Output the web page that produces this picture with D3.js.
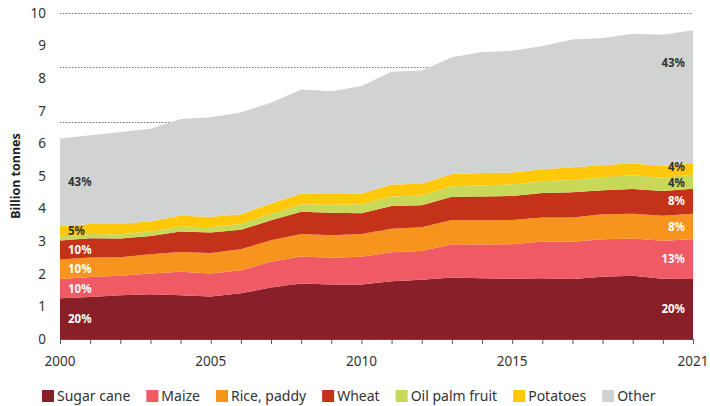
<!DOCTYPE html>
<html>
<head>
<meta charset="utf-8">
<script src="https://d3js.org/d3.v7.min.js"></script>
<style>
  body { margin: 0; background: #fff; }
  svg { display: block; font-family: "Noto Sans", sans-serif; }
  .tick-label { font-size: 13.5px; fill: #333; }
  .pct { font-size: 11.5px; font-weight: bold; }
  .legend text { font-size: 14px; fill: #333; }
</style>
</head>
<body>
<div id="chart"></div>
<script>
// Crop production, billion tonnes, 2000-2021
const years = d3.range(2000, 2022);

const sugarCane = [1.25,1.29,1.34,1.37,1.34,1.30,1.40,1.58,1.70,1.67,1.67,1.77,1.82,1.89,1.86,1.85,1.86,1.84,1.91,1.94,1.85,1.84];
const maize     = [0.59,0.61,0.60,0.64,0.72,0.71,0.71,0.79,0.83,0.82,0.85,0.89,0.88,1.02,1.04,1.06,1.13,1.14,1.15,1.14,1.16,1.22];
const rice      = [0.60,0.60,0.57,0.59,0.61,0.63,0.64,0.66,0.69,0.69,0.70,0.72,0.73,0.74,0.74,0.74,0.74,0.75,0.77,0.76,0.77,0.78];
const wheat     = [0.58,0.59,0.57,0.56,0.63,0.63,0.60,0.61,0.68,0.69,0.64,0.70,0.67,0.71,0.73,0.74,0.75,0.77,0.73,0.76,0.76,0.77];
const oilPalm   = [0.12,0.13,0.13,0.14,0.15,0.16,0.18,0.20,0.23,0.25,0.27,0.29,0.30,0.33,0.34,0.35,0.36,0.38,0.40,0.42,0.41,0.43];
const potatoes  = [0.32,0.31,0.32,0.31,0.33,0.32,0.30,0.32,0.33,0.33,0.33,0.37,0.36,0.37,0.38,0.37,0.37,0.39,0.37,0.37,0.36,0.37];
const other     = [2.69,2.72,2.82,2.84,2.97,3.05,3.12,3.09,3.19,3.15,3.30,3.46,3.48,3.58,3.71,3.73,3.78,3.92,3.90,3.97,4.02,4.06];

const seriesNames = ["Sugar cane", "Maize", "Rice, paddy", "Wheat", "Oil palm fruit", "Potatoes", "Other"];
const seriesValues = [sugarCane, maize, rice, wheat, oilPalm, potatoes, other];
const colors = ["#8a2027", "#ef5a64", "#f7941d", "#c4321a", "#c8d95a", "#ffc80a", "#d1d3d2"];

// share labels at each end (null = no label)
const startLabels = ["20%", "10%", "10%", "10%", null, "5%", "43%"];
const endLabels   = ["20%", "13%", "8%", "8%", "4%", "4%", "43%"];
const darkText = [false, false, false, false, true, true, true];

const yTicks = d3.range(0, 11);
const xTickLabels = [2000, 2005, 2010, 2015, 2021];

const width = 710, height = 406;
const margin = { top: 13, right: 17, bottom: 67, left: 60 };

const svg = d3.select("#chart").append("svg")
  .attr("width", width)
  .attr("height", height);

const x = d3.scaleLinear().domain([2000, 2021]).range([margin.left, width - margin.right]);
const y = d3.scaleLinear().domain([0, 10]).range([height - margin.bottom, margin.top]);

// table for the stack
const table = years.map((yr, i) => {
  const row = { year: yr };
  seriesNames.forEach((n, k) => row[n] = seriesValues[k][i]);
  return row;
});
const stacked = d3.stack().keys(seriesNames)(table);

// dotted gridlines (sit behind the areas)
const gridVals = [10, 25 / 3, 20 / 3, 5, 10 / 3, 5 / 3];
svg.append("g").selectAll("line")
  .data(gridVals)
  .enter().append("line")
  .attr("x1", x(2000)).attr("x2", x(2021))
  .attr("y1", d => Math.round(y(d)) + 0.5).attr("y2", d => Math.round(y(d)) + 0.5)
  .attr("stroke", "#777")
  .attr("stroke-width", 1)
  .attr("stroke-dasharray", "1.5,1.5");

// areas
const area = d3.area()
  .x(d => x(d.data.year))
  .y0(d => y(d[0]))
  .y1(d => y(d[1]));

svg.append("g").selectAll("path")
  .data(stacked)
  .enter().append("path")
  .attr("d", area)
  .attr("fill", (d, i) => colors[i]);

// y tick labels
svg.append("g").selectAll("text")
  .data(yTicks)
  .enter().append("text")
  .attr("class", "tick-label")
  .attr("x", 46)
  .attr("y", d => y(d))
  .attr("dy", "0.35em")
  .attr("text-anchor", "end")
  .text(d => d);

// y axis title
svg.append("text")
  .attr("transform", `translate(20,${y(5)}) rotate(-90)`)
  .attr("text-anchor", "middle")
  .attr("font-size", "12.5px")
  .attr("font-weight", "bold")
  .attr("fill", "#222")
  .text("Billion tonnes");

// x axis
const xAxis = d3.axisBottom(x)
  .tickValues(years)
  .tickSize(5)
  .tickFormat("");
const gx = svg.append("g")
  .attr("transform", `translate(0,${y(0)})`)
  .call(xAxis);
gx.select(".domain").attr("stroke", "#555");
gx.selectAll(".tick line").attr("stroke", "#555");

svg.append("g").selectAll("text")
  .data(xTickLabels)
  .enter().append("text")
  .attr("class", "tick-label")
  .attr("x", d => x(d))
  .attr("y", y(0) + 27)
  .attr("text-anchor", "middle")
  .text(d => d);

// share labels
const last = years.length - 1;
// small vertical nudges so the two thin right-hand bands don't collide
const endNudge = [0, 0, 0, 0, 1.5, -2, 0];
stacked.forEach((s, i) => {
  const fill = darkText[i] ? "#333" : "#fff";
  if (startLabels[i]) {
    const p = s[0];
    svg.append("text").attr("class", "pct")
      .attr("x", x(2000) + 8)
      .attr("y", y((p[0] + p[1]) / 2))
      .attr("dy", "0.35em")
      .attr("fill", fill)
      .text(startLabels[i]);
  }
  if (endLabels[i]) {
    const p = s[last];
    const v = seriesNames[i] === "Other" ? p[1] - 1 : (p[0] + p[1]) / 2;
    svg.append("text").attr("class", "pct")
      .attr("x", x(2021) - 8)
      .attr("y", y(v) + endNudge[i])
      .attr("dy", "0.35em")
      .attr("text-anchor", "end")
      .attr("fill", fill)
      .text(endLabels[i]);
  }
});

// legend
const legend = svg.append("g").attr("class", "legend")
  .attr("transform", `translate(42,${height - 5})`);
let lx = 0;
seriesNames.forEach((n, i) => {
  const g = legend.append("g").attr("transform", `translate(${lx},0)`);
  g.append("rect").attr("x", 0).attr("y", -11).attr("width", 12).attr("height", 12).attr("fill", colors[i]);
  const t = g.append("text").attr("x", 15).attr("y", 0).text(n);
  lx += 15 + t.node().getComputedTextLength() + 16;
});
</script>
</body>
</html>
